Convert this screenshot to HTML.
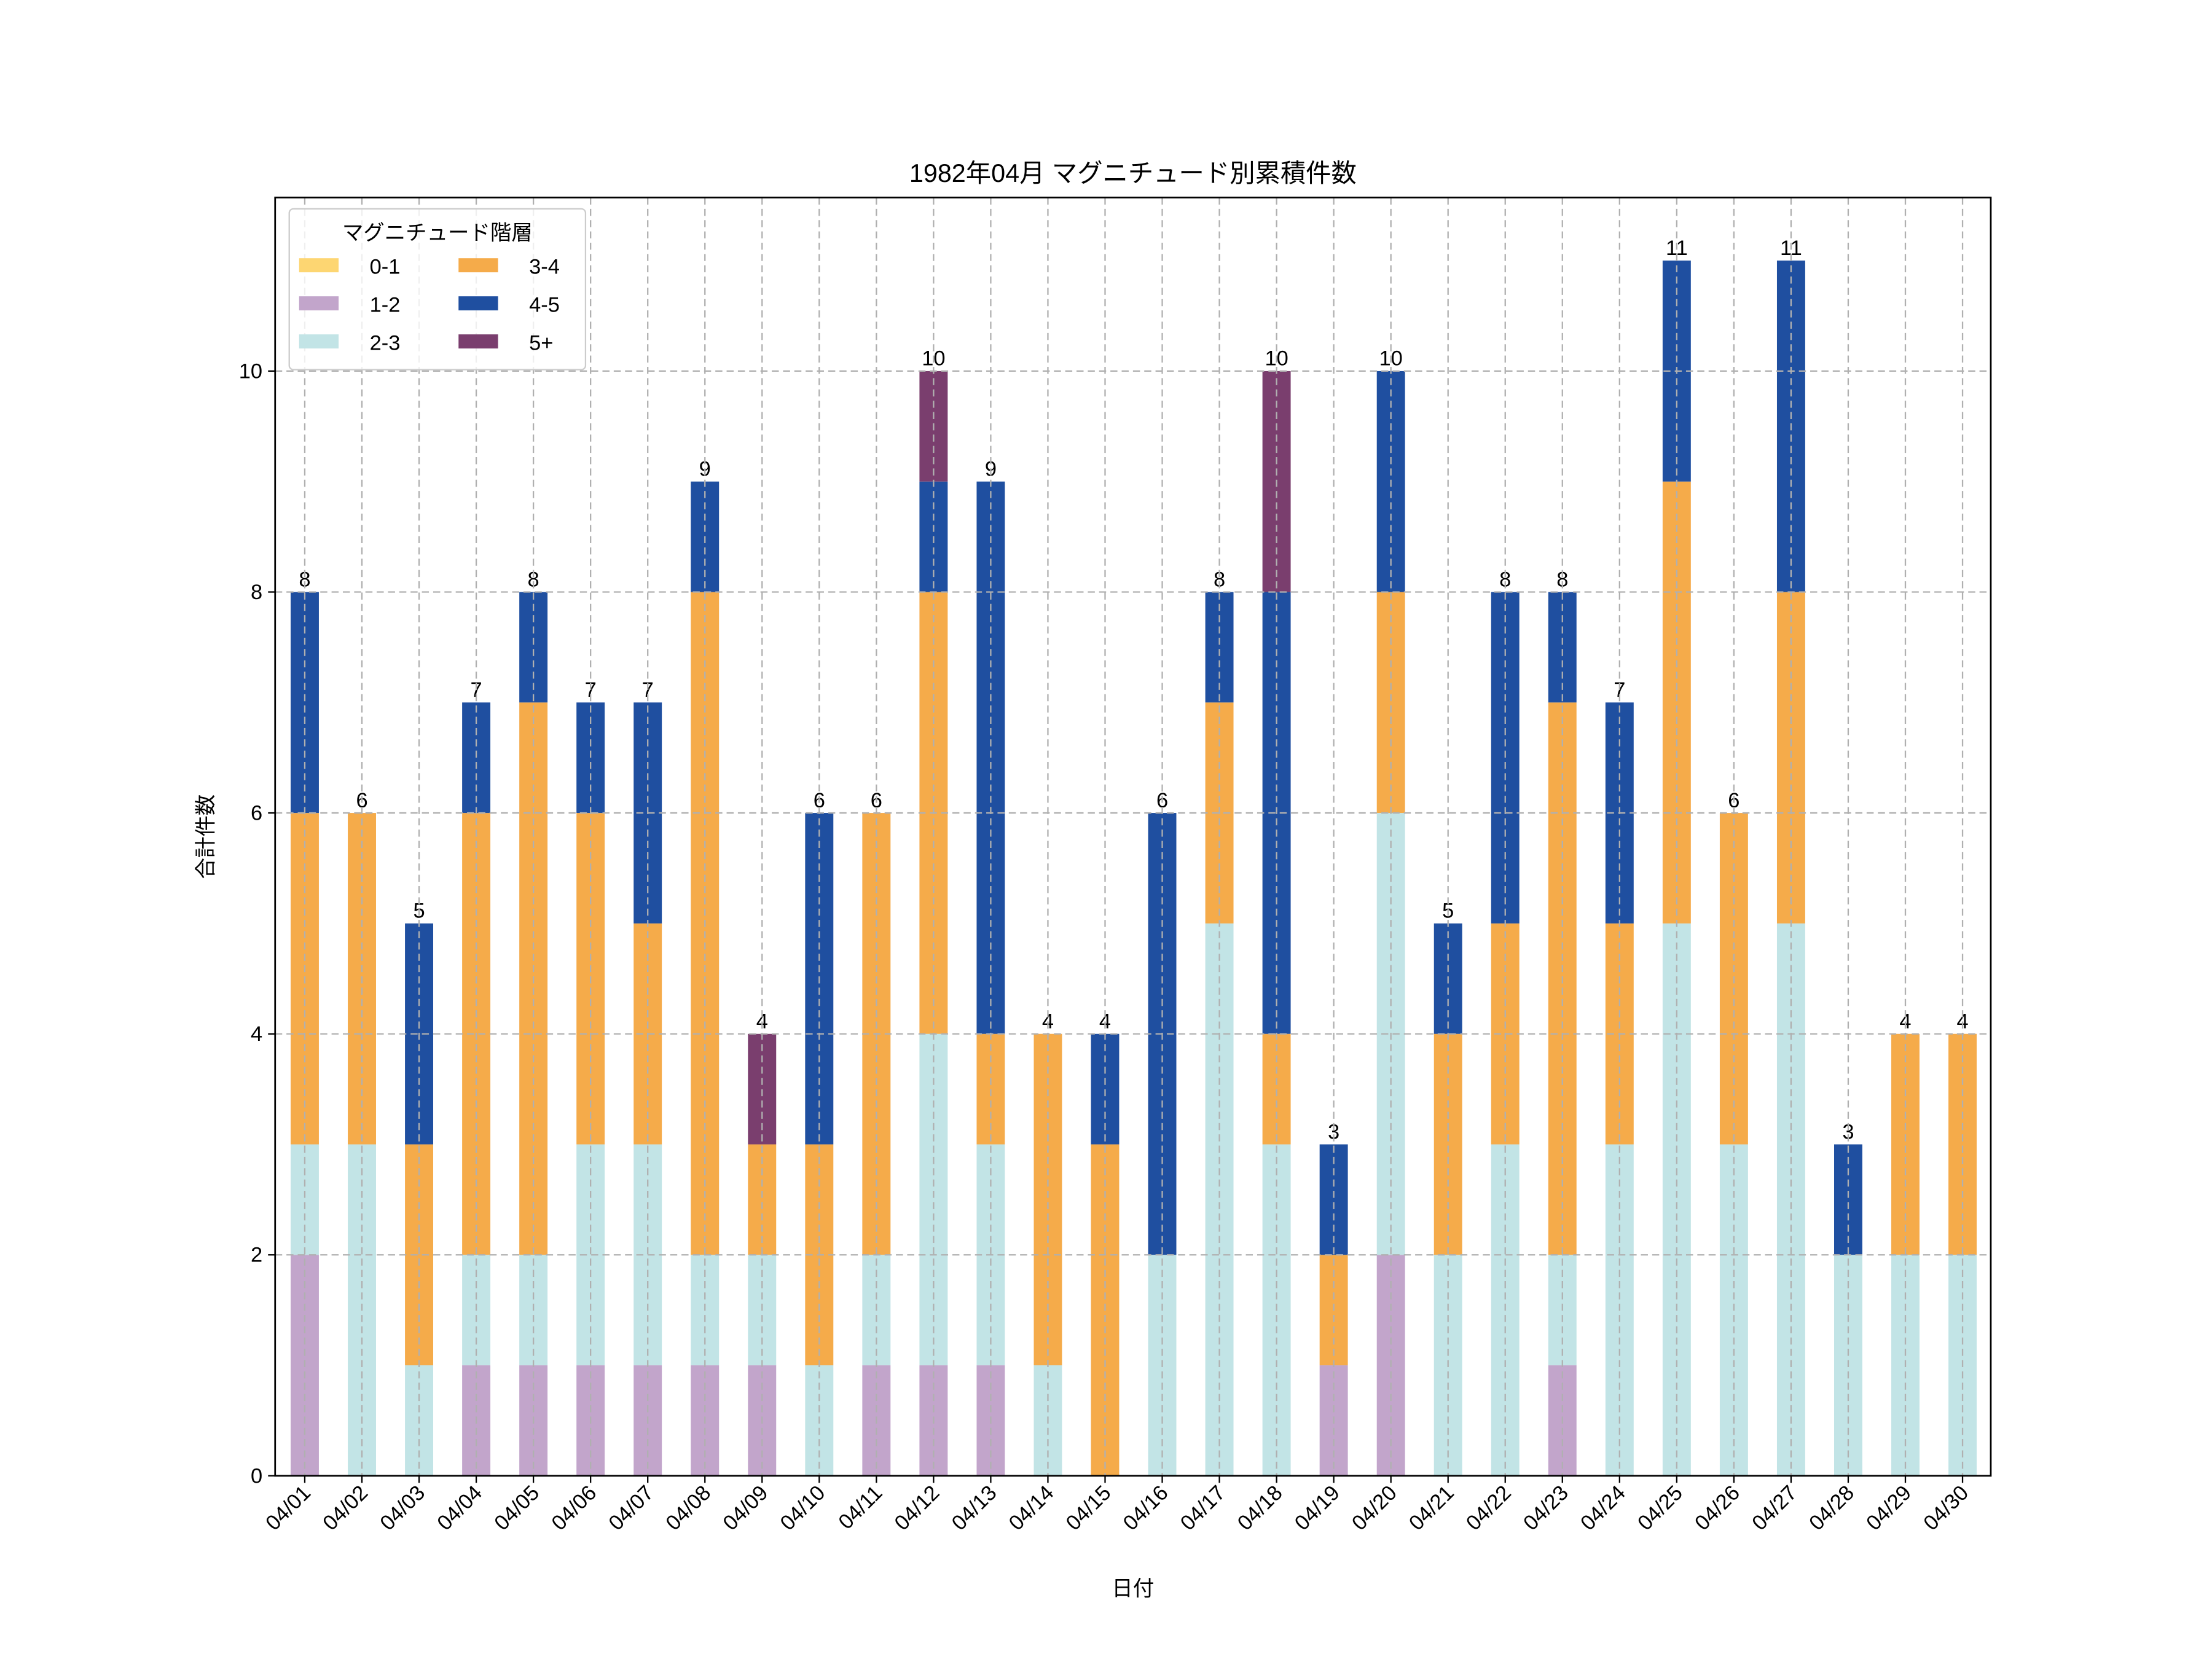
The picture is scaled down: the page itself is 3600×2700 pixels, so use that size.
<!DOCTYPE html>
<html><head><meta charset="utf-8"><style>html,body{margin:0;padding:0;background:#fff}svg{display:block}text{font-family:"Liberation Sans","Noto Sans CJK JP",sans-serif;fill:#000}</style></head>
<body>
<svg id="chart" xmlns="http://www.w3.org/2000/svg" width="3600" height="2700" viewBox="0 0 1567.8 1175.85">
<rect width="1570" height="1180" fill="#fff"/>
<g id="bars"></g>
<g id="grid"></g>
<g id="axes"></g>
<text x="803" y="129" text-anchor="middle" font-size="18">1982年04月 マグニチュード別累積件数</text>
<text x="803" y="1131" text-anchor="middle" font-size="15">日付</text>
<text transform="translate(151,593) rotate(-90)" text-anchor="middle" font-size="15">合計件数</text>
<g id="legend"></g>
</svg>
<script>
const categories=["04/01","04/02","04/03","04/04","04/05","04/06","04/07","04/08","04/09","04/10","04/11","04/12","04/13","04/14","04/15","04/16","04/17","04/18","04/19","04/20","04/21","04/22","04/23","04/24","04/25","04/26","04/27","04/28","04/29","04/30"];
const seriesNames=["0-1","1-2","2-3","3-4","4-5","5+"];
const seriesColors=["#fdd672","#c2a5cb","#c2e4e6","#f5ab4a","#1f4fa0","#7a3e6e"];
const m01=[0,0,0,0,0,0,0,0,0,0,0,0,0,0,0,0,0,0,0,0,0,0,0,0,0,0,0,0,0,0];
const m12=[2,0,0,1,1,1,1,1,1,0,1,1,1,0,0,0,0,0,1,2,0,0,1,0,0,0,0,0,0,0];
const m23=[1,3,1,1,1,2,2,1,1,1,1,3,2,1,0,2,5,3,0,4,2,3,1,3,5,3,5,2,2,2];
const m34=[3,3,2,4,5,3,2,6,1,2,4,4,1,3,3,0,2,1,1,2,2,2,5,2,4,3,3,0,2,2];
const m45=[2,0,2,1,1,1,2,1,0,3,0,1,5,0,1,4,1,4,1,2,1,3,1,2,2,0,3,1,0,0];
const m5p=[0,0,0,0,0,0,0,0,1,0,0,1,0,0,0,0,0,2,0,0,0,0,0,0,0,0,0,0,0,0];
const yTicks=[0,2,4,6,8,10];
const series=[m01,m12,m23,m34,m45,m5p];
const NS="http://www.w3.org/2000/svg";
const L=195,R=1411,T=140,B=1046;
const x=i=>216+i*(1391-216)/29;
const y=v=>B-v*(B-263)/10;
const bw=20;
function mk(tag,attrs,parent){const e=document.createElementNS(NS,tag);for(const k in attrs)e.setAttribute(k,attrs[k]);parent.appendChild(e);return e;}
const gb=document.getElementById('bars'),gg=document.getElementById('grid'),ga=document.getElementById('axes'),gl=document.getElementById('legend');
categories.forEach((c,i)=>{let base=0;
 series.forEach((s,k)=>{const v=s[i];if(v>0){const r=mk('rect',{x:x(i)-bw/2,y:y(base+v),width:bw,height:y(base)-y(base+v),fill:seriesColors[k]},gb);
 
 }base+=v;});
 const t=mk('text',{x:x(i),y:y(base)-4,'text-anchor':'middle','font-size':15},gb);t.textContent=base;
 
 
});
categories.forEach((c,i)=>{const l=mk('line',{x1:x(i),x2:x(i),y1:T,y2:B,stroke:'#b0b0b0','stroke-dasharray':'5,3','stroke-width':1},gg);
 
 });
yTicks.forEach(v=>{const l=mk('line',{x1:L,x2:R,y1:y(v),y2:y(v),stroke:'#b0b0b0','stroke-dasharray':'5,3','stroke-width':1},gg);
 
 });
const fr=mk('rect',{x:L,y:T,width:R-L,height:B-T,fill:'none',stroke:'#000','stroke-width':1.2},ga);


yTicks.forEach(v=>{mk('line',{x1:L-5,x2:L,y1:y(v),y2:y(v),stroke:'#000'},ga);
 const t=mk('text',{x:L-9,y:y(v)+5,'text-anchor':'end','font-size':15},ga);t.textContent=v;
 
 });
categories.forEach((c,i)=>{mk('line',{x1:x(i),x2:x(i),y1:B,y2:B+5,stroke:'#000'},ga);
 const t=mk('text',{transform:`translate(${x(i)+5},${B+13}) rotate(-45)`,'text-anchor':'end','font-size':15},ga);t.textContent=c;
 
 });
const lb=mk('rect',{x:205,y:148,width:210,height:114,rx:3,fill:'#fff','fill-opacity':0.8,stroke:'#ccc'},gl);


const lt=mk('text',{x:310,y:170,'text-anchor':'middle','font-size':15},gl);lt.textContent='マグニチュード階層';


seriesNames.forEach((n,k)=>{const col=Math.floor(k/3),row=k%3;const px=212+col*113,py=183+row*27;
 const g=mk('g',{},gl);
 
 
 mk('rect',{x:px,y:py,width:28,height:10,fill:seriesColors[k]},g);
 const t=mk('text',{x:px+50,y:py+11,'font-size':15},g);t.textContent=n;});
</script>
</body></html>
